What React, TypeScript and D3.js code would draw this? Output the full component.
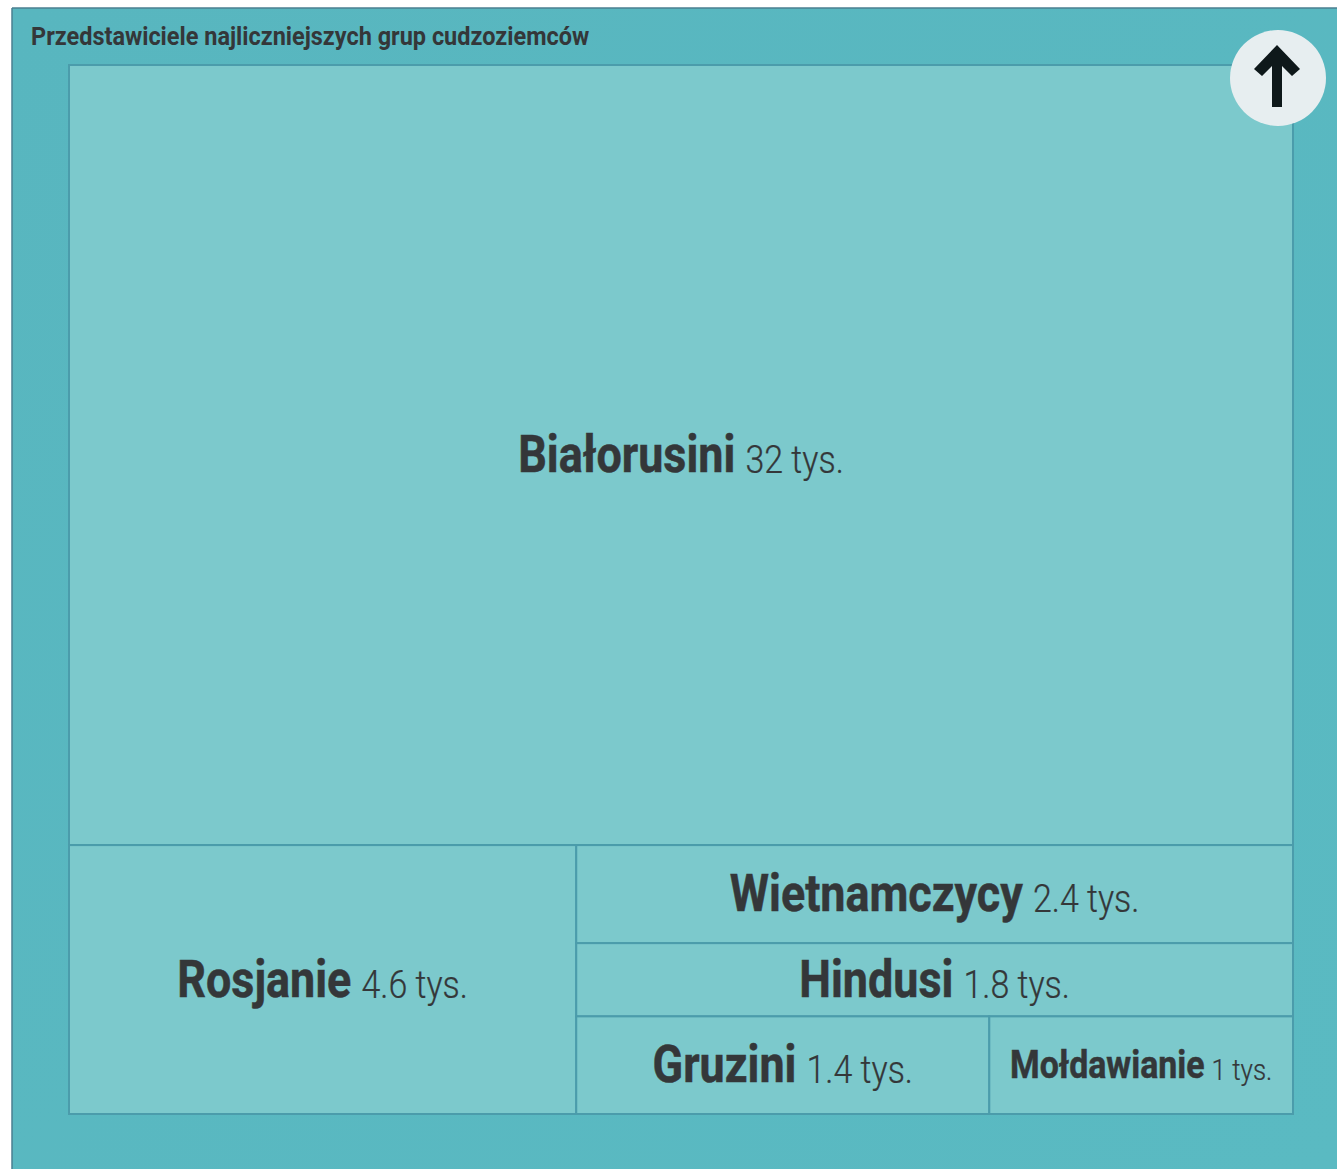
import React from "react";
import * as d3 from "d3";

const title = "Przedstawiciele najliczniejszych grup cudzoziemców";
const names = ["Białorusini", "Rosjanie", "Wietnamczycy", "Hindusi", "Gruzini", "Mołdawianie"];
const labels = ["32 tys.", "4.6 tys.", "2.4 tys.", "1.8 tys.", "1.4 tys.", "1 tys."];
// Rounded figures are shown as labels; areas use the values read from the rectangles.
const areas = [32.2, 4.6, 2.37, 1.77, 1.36, 1.0];

const W = 1337, H = 1169;
const X0 = 69, Y0 = 65, X1 = 1293, Y1 = 1114;
const leaf = (i: number) => ({ i, value: areas[i] });
const tree = {
  children: [
    leaf(0),
    { children: [leaf(1), { children: [leaf(2), leaf(3), { children: [leaf(4), leaf(5)] }] }] },
  ],
};
const root = d3
  .treemap<any>()
  .size([X1 - X0, Y1 - Y0])
  .tile((node: any, x0: number, y0: number, x1: number, y1: number) => {
    (node.depth % 2 === 0 ? d3.treemapSlice : d3.treemapDice)(node, x0, y0, x1, y1);
  })(d3.hierarchy<any>(tree).sum((d: any) => d.value ?? 0));

const CELL_STROKE = "#4b9cab";
const TEXT = "#343739";

export default function App() {
  const leaves = root.leaves();
  return (
    <svg width={W} height={H} style={{ position: "absolute", left: 0, top: 0, display: "block" }}>
      <defs>
        <linearGradient id="bg" x1="0" y1="0" x2="1" y2="1">
          <stop offset="0" stopColor="#58b6bf" />
          <stop offset="1" stopColor="#5abac2" />
        </linearGradient>
      </defs>
      <rect width={W} height={H} fill="#ffffff" />
      <rect x={12} y={8} width={W - 12} height={H - 8} fill="url(#bg)" />
      <line x1={12} y1={8} x2={W} y2={8} stroke="#4a7f90" strokeWidth={1.5} />
      <line x1={12} y1={8} x2={12} y2={H} stroke="#4a7f90" strokeWidth={1.5} />
      <text
        transform="translate(31,45) scale(0.88,1)"
        fontFamily="Roboto"
        fontWeight={700}
        fontSize={26.7}
        fill={TEXT}
      >
        {title}
      </text>
      <g transform={`translate(${X0},${Y0})`}>
        {leaves.map((n: any) => (
          <rect
            key={n.data.i}
            x={n.x0}
            y={n.y0}
            width={n.x1 - n.x0}
            height={n.y1 - n.y0}
            fill="#7cc9cc"
            stroke={CELL_STROKE}
            strokeWidth={2}
          />
        ))}
        {leaves.map((n: any) => {
          const small = n.data.i === 5;
          const cx = (n.x0 + n.x1) / 2;
          const cy = (n.y0 + n.y1) / 2;
          return (
            <text
              key={n.data.i}
              transform={`translate(${cx},${cy + (small ? 13 : 17)}) scale(0.88,1)`}
              textAnchor="middle"
              fontFamily="Roboto"
              fill={TEXT}
            >
              <tspan fontWeight={700} fontSize={small ? 38.5 : 51} stroke={TEXT} strokeWidth={0.5}>
                {names[n.data.i]}
              </tspan>
              <tspan fontWeight={300} fontSize={small ? 29.5 : 38.6} dx={small ? 8 : 11.5} dy={small ? 2 : 1} stroke={TEXT} strokeWidth={0.25}>
                {labels[n.data.i]}
              </tspan>
            </text>
          );
        })}
      </g>
      <circle cx={1278} cy={78} r={48} fill="#e7eef0" />
      <path
        d="M1277 45 L1300 69 L1292 76 L1282 66 L1282 107 L1272 107 L1272 66 L1262 76 L1254 69 Z"
        fill="#0e181a"
      />
    </svg>
  );
}
